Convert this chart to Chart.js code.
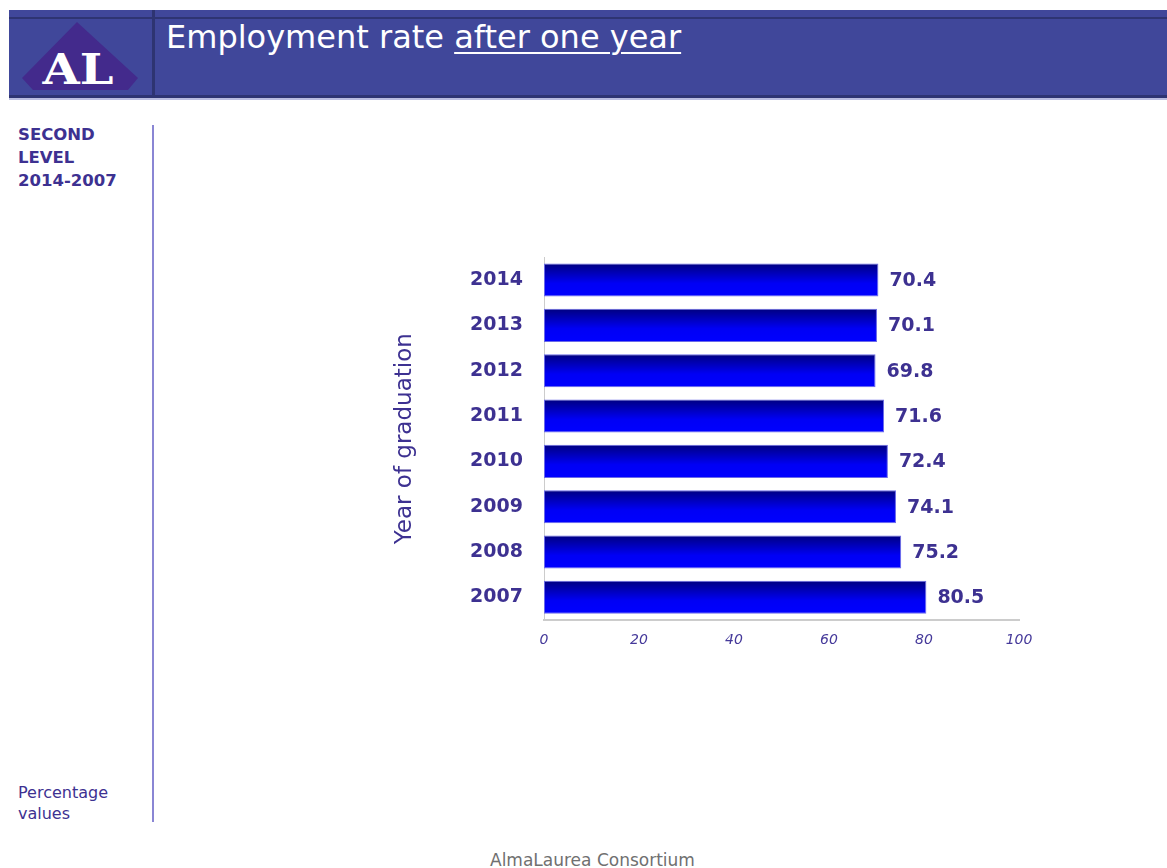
<!DOCTYPE html>
<html>
<head>
<meta charset="utf-8">
<script src="https://cdn.jsdelivr.net/npm/chart.js@4/dist/chart.umd.min.js"></script>
<style>
  html, body { margin: 0; padding: 0; background: #fff; width: 1167px; height: 868px; overflow: hidden; font-family: "DejaVu Sans", sans-serif; }
  #header { position: absolute; left: 9px; top: 10px; width: 1158px; height: 88px; background: #40479a; }
  #hline1 { position: absolute; left: 9px; top: 17px; width: 1158px; height: 2px; background: #2e3472; }
  #hline2 { position: absolute; left: 9px; top: 95px; width: 1158px; height: 3px; background: #2e3472; }
  #hline3 { position: absolute; left: 9px; top: 98px; width: 1158px; height: 2px; background: #b9bce0; }
  #vsep { position: absolute; left: 152px; top: 10px; width: 3px; height: 86px; background: #2e3472; }
  #logo { position: absolute; left: 0; top: 0; }
  #title { position: absolute; left: 166px; top: 18px; color: #fff; font-size: 32px; font-family: "DejaVu Sans", sans-serif; white-space: nowrap; }
  #title u { text-decoration-thickness: 2px; text-underline-offset: 4px; }
  #side { position: absolute; left: 18px; top: 123px; color: #3d3191; font-weight: bold; font-size: 16.5px; line-height: 23px; }
  #vline { position: absolute; left: 152px; top: 125px; width: 2px; height: 697px; background: #8a86d4; }
  #pct { position: absolute; left: 18px; top: 782px; color: #3d3191; font-size: 16px; line-height: 21px; }
  #foot { position: absolute; left: 490px; top: 850px; color: #707070; font-size: 17px; }
  #wrap { position: absolute; left: 380px; top: 225px; width: 680px; height: 435px; }
</style>
</head>
<body>
<div id="header"></div>
<div id="hline1"></div>
<div id="hline2"></div>
<div id="hline3"></div>
<div id="vsep"></div>
<svg id="logo" width="160" height="100">
  <polygon points="77,22 22,78 33,90 128,90 138,78" fill="#432a8c"/>
  <text x="78" y="84" text-anchor="middle" fill="#fff" font-family="DejaVu Serif, serif" font-weight="bold" font-size="42" textLength="71" lengthAdjust="spacingAndGlyphs">AL</text>
</svg>
<div id="title">Employment rate <u>after one year</u></div>
<div id="side">SECOND<br>LEVEL<br>2014-2007</div>
<div id="vline"></div>
<div id="pct">Percentage<br>values</div>
<div id="foot">AlmaLaurea Consortium</div>
<div id="wrap"><canvas id="c"></canvas></div>
<script>
const years = ["2014", "2013", "2012", "2011", "2010", "2009", "2008", "2007"];
const rates = [70.4, 70.1, 69.8, 71.6, 72.4, 74.1, 75.2, 80.5];
const xTicks = [0, 20, 40, 60, 80, 100];
const seriesName = "Employment rate";

const textColor = "#3d3191";
const CAT = 0.9, BAR = 0.81;

function barGradient(ctx) {
  const chart = ctx.chart;
  const y = chart.scales && chart.scales.y;
  if (!y || ctx.dataIndex === undefined) return "#0000ff";
  const center = y.getPixelForValue(ctx.dataIndex);
  const half = (y.height / years.length) * CAT * BAR / 2;
  if (!isFinite(center) || !isFinite(half) || half <= 0) return "#0000ff";
  const g = chart.ctx.createLinearGradient(0, center - half, 0, center + half);
  g.addColorStop(0, "#000080");
  g.addColorStop(0.6, "#0000f5");
  g.addColorStop(1, "#0000ff");
  return g;
}

const valueLabels = {
  id: "valueLabels",
  afterDatasetsDraw(chart) {
    const c = chart.ctx;
    const meta = chart.getDatasetMeta(0);
    c.save();
    c.font = "bold 19px 'DejaVu Sans', sans-serif";
    c.fillStyle = textColor;
    c.textAlign = "left";
    c.textBaseline = "middle";
    meta.data.forEach((bar, i) => {
      c.fillText(rates[i].toFixed(1), bar.x + 11, bar.y + 1);
    });
    c.restore();
  }
};

new Chart(document.getElementById("c"), {
  type: "bar",
  data: {
    labels: years,
    datasets: [{
      label: seriesName,
      data: rates,
      backgroundColor: barGradient,
      borderColor: "#6a6ae8",
      borderWidth: 1,
      borderSkipped: false,
      categoryPercentage: CAT,
      barPercentage: BAR
    }]
  },
  options: {
    indexAxis: "y",
    responsive: true,
    maintainAspectRatio: false,
    animation: false,
    layout: { padding: { top: 18, right: 41, left: 0, bottom: 0 } },
    plugins: { legend: { display: false }, tooltip: { enabled: false } },
    scales: {
      x: {
        min: 0, max: 100,
        afterBuildTicks(scale) { scale.ticks = xTicks.map(v => ({ value: v })); },
        afterFit(scale) { scale.height = 40; },
        grid: { display: false, drawTicks: false },
        border: { display: true, color: "#cccccc", width: 2 },
        ticks: { padding: 12, color: "#45399a", font: { family: "DejaVu Sans", size: 14, style: "italic" } }
      },
      y: {
        afterFit(scale) { scale.width = 164; },
        grid: { display: false, drawTicks: false },
        border: { display: true, color: "#cccccc", width: 1 },
        ticks: { padding: 21, color: textColor, font: { family: "DejaVu Sans", size: 19, weight: "bold" } },
        title: { display: true, text: "Year of graduation", color: textColor, padding: { top: 11, bottom: 0 }, font: { family: "DejaVu Sans", size: 23 } }
      }
    }
  },
  plugins: [valueLabels]
});
</script>
</body>
</html>
